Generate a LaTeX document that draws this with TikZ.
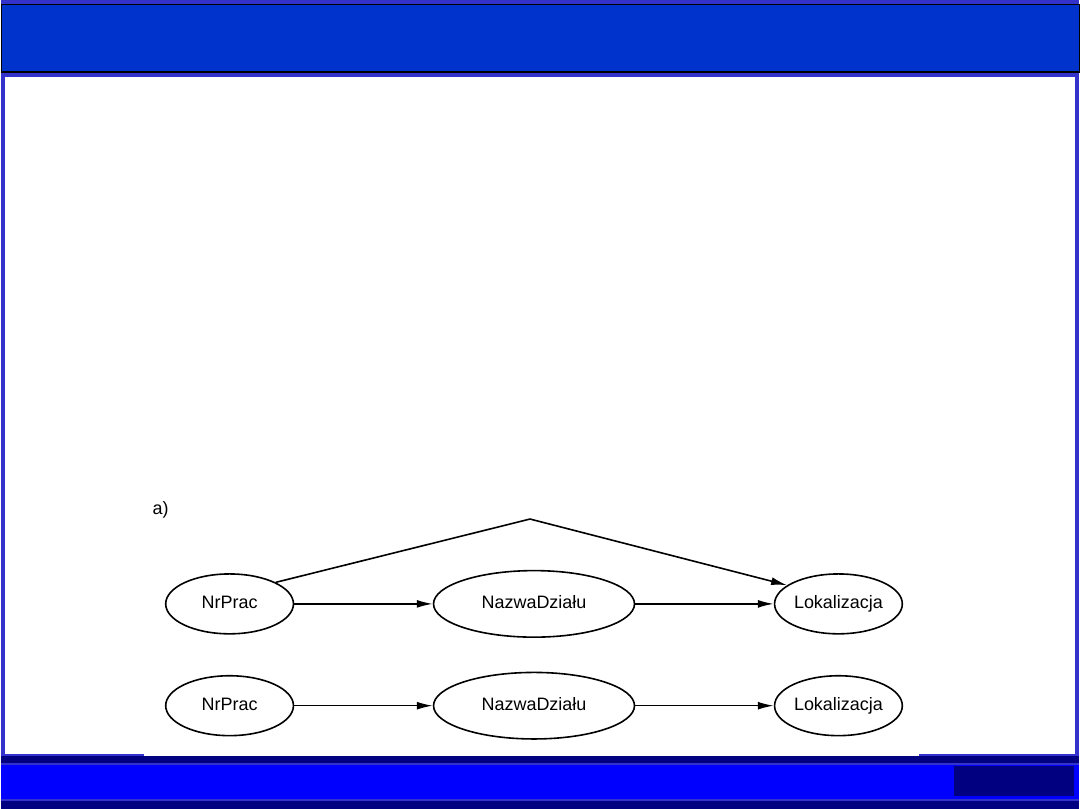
\documentclass[tikz,border=0pt]{standalone}
\usepackage{fontspec}
\setmainfont{Liberation Sans}
\usetikzlibrary{shapes,arrows.meta,positioning}
\definecolor{frameblue}{HTML}{3333CC}
\definecolor{titleblue}{HTML}{0033CC}
\definecolor{barblue}{HTML}{0000FF}
\definecolor{darknavy}{HTML}{000080}
\tikzset{
  attr/.style={draw, line width=1.2pt, ellipse, inner sep=0.5pt, minimum width=96pt, minimum height=45pt,
    text height=9.5pt, text depth=2.5pt, font=\fontsize{13.5}{16}\selectfont},
  wideattr/.style={attr, minimum width=151pt, minimum height=50pt},
  dep/.style={-{Latex[length=12pt,width=6pt]}, line width=1.2pt}
}

\begin{document}
\begin{tikzpicture}[x=0.75pt,y=-0.75pt]
% slide frame
\fill[frameblue] (0,0) rectangle (1080,810);
\draw[black, fill=titleblue] (0,4) rectangle (1080,72);
\draw[black, line width=1.5pt] (0,72) -- (1080,72);
\fill[white] (4,77) rectangle (1076,755);
\fill[white] (143,755) rectangle (920,757);
\fill[darknavy] (0,757) rectangle (1080,764);
\fill[barblue] (0,766) rectangle (1080,800);
\fill[darknavy] (0,802) rectangle (1080,810);
\fill[darknavy] (955,767) rectangle (1075,797);

% a) upper row
\node[font=\fontsize{13.5}{16}\selectfont] (lbl) at (160,511) {a)};
\node[attr] (nr1) at (229,605) {NrPrac};
\node[wideattr] (naz1) at (534,605) {NazwaDziału};
\node[attr] (lok1) at (839,605) {Lokalizacja};
\coordinate (apex) at (530,520);
\draw[dep] (nr1) -- (naz1);
\draw[dep] (naz1) -- (lok1);
\draw[dep] (nr1.25) -- (apex) -- (lok1.160);

% lower row
\node[attr] (nr2) at (229,707) {NrPrac};
\node[wideattr] (naz2) at (534,707) {NazwaDziału};
\node[attr] (lok2) at (839,707) {Lokalizacja};
\draw[dep] (nr2) -- (naz2);
\draw[dep] (naz2) -- (lok2);
\end{tikzpicture}
\end{document}
